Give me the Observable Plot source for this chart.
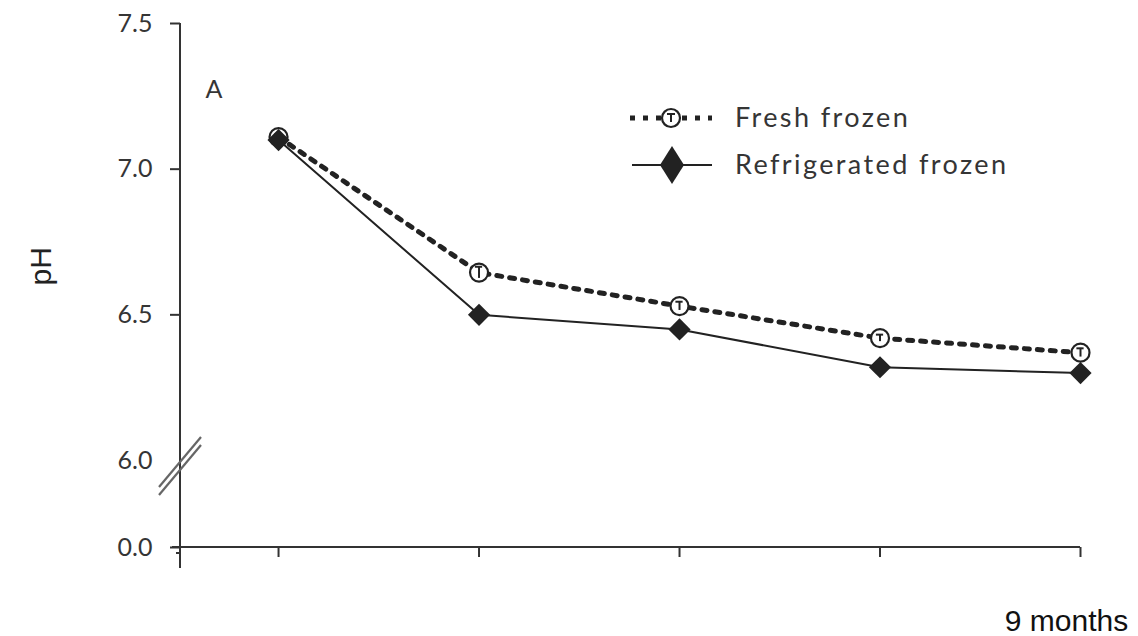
<!DOCTYPE html>
<html>
<head>
<meta charset="utf-8">
<script src="https://cdn.jsdelivr.net/npm/d3@7"></script>
<script src="https://cdn.jsdelivr.net/npm/@observablehq/plot@0.6"></script>
<style>
  html, body { margin: 0; padding: 0; background: #fff; }
  #chart { width: 1138px; height: 636px; }
</style>
</head>
<body>
<div id="chart"></div>
<script>
// ---- data ----
const months = [0, 1, 2, 3, 4];
const xLabels = ["", "", "", "", "9 months"];
const fresh = [7.11, 6.645, 6.53, 6.42, 6.37];
const freshErr = [0.01, 0.02, 0.015, 0.012, 0.015];
const refrig = [7.10, 6.50, 6.45, 6.32, 6.30];
const yTicks = [0.0, 6.5, 7.0, 7.5];
const yBreakTick = [6.0];
const seriesNames = ["Fresh frozen", "Refrigerated frozen"];
const panelLabel = "A";
const yLabel = "pH";

const freshData = months.map((m, i) => ({ x: m, y: fresh[i], e: freshErr[i] }));
const refrigData = months.map((m, i) => ({ x: m, y: refrig[i] }));
const labelData = months.map((m, i) => ({ x: m, text: xLabels[i] })).filter(d => d.text);

const INK = "#222";
const TXT = "#353535";

function decorations(index, scales, values, dims) {
  const g = d3.create("svg:g");
  const x0 = dims.marginLeft;
  const x1 = dims.width - dims.marginRight;
  const y0 = scales.y(0);
  const yTop = scales.y(7.5);
  // y axis line (extends a bit below x axis)
  g.append("path").attr("d", `M${x0},${yTop}V${y0 + 21}M${x0},${y0 + 6}h-4`)
    .attr("stroke", "#333").attr("stroke-width", 2).attr("fill", "none");
  // x axis line
  g.append("line").attr("x1", x0 - 8).attr("x2", x1).attr("y1", y0).attr("y2", y0)
    .attr("stroke", "#333").attr("stroke-width", 2);
  // axis break marks
  [2, 10].forEach(off => {
    const c = scales.y(6.0) + off;
    g.append("line").attr("x1", x0 - 21).attr("y1", c + 25).attr("x2", x0 + 21).attr("y2", c - 25)
      .attr("stroke", "#666").attr("stroke-width", 2.2);
  });
  // legend
  const lg = g.append("g");
  const ly1 = 118, ly2 = 165;
  lg.append("line").attr("x1", 630).attr("x2", 712).attr("y1", ly1).attr("y2", ly1)
    .attr("stroke", INK).attr("stroke-width", 5).attr("stroke-dasharray", "5,8");
  lg.append("circle").attr("cx", 671).attr("cy", ly1).attr("r", 9)
    .attr("fill", "#fff").attr("stroke", INK).attr("stroke-width", 2.2);
  lg.append("path").attr("d", `M671,${ly1 - 4}v8M667,${ly1 - 4}h8`).attr("stroke", INK).attr("stroke-width", 2);
  lg.append("line").attr("x1", 632).attr("x2", 712).attr("y1", ly2).attr("y2", ly2)
    .attr("stroke", INK).attr("stroke-width", 2);
  lg.append("path").attr("d", `M672,${ly2 - 19}L684,${ly2}L672,${ly2 + 19}L660,${ly2}Z`).attr("fill", INK);
  [[ly1, seriesNames[0]], [ly2, seriesNames[1]]].forEach(([yy, t]) => {
    lg.append("text").attr("x", 735).attr("y", yy).attr("dy", "0.35em")
      .attr("text-anchor", "start")
      .attr("font-family", "Lato").attr("font-size", 27).attr("letter-spacing", "2.4px")
      .attr("fill", TXT).text(t);
  });
  return g.node();
}

const chart = Plot.plot({
  width: 1138,
  height: 636,
  marginLeft: 180,
  marginRight: 58,
  marginTop: 23,
  marginBottom: 89,
  style: { background: "#fff", color: "#333", fontFamily: "Lato" },
  x: { type: "linear", domain: [-0.489, 4], axis: null },
  y: { type: "linear", domain: [0, 6, 7.5], range: [547, 460, 23], axis: null },
  marks: [
    Plot.axisY(yTicks, { label: null, tickSize: 10, tickPadding: 18, tickFormat: d => d.toFixed(1), fontSize: 25, fill: TXT, strokeWidth: 2 }),
    Plot.axisY(yBreakTick, { label: null, tickSize: 0, tickPadding: 28, tickFormat: d => d.toFixed(1), fontSize: 25, fill: TXT }),
    Plot.axisX(months, { label: null, tickSize: 10, tickFormat: () => "", strokeWidth: 2 }),
    Plot.text(labelData, { x: "x", y: 0, text: "text", dx: -14, dy: 62, lineAnchor: "top", fontSize: 30, fontFamily: "Liberation Sans", fill: "#111" }),
    Plot.text([yLabel], { frameAnchor: "left", dx: -139, rotate: -90, fontSize: 30, fontFamily: "Liberation Sans", fill: "#222" }),
    Plot.text([panelLabel], { frameAnchor: "top-left", dx: 25, dy: 57, fontSize: 25, fill: TXT }),
    decorations,
    Plot.line(freshData, { x: "x", y: "y", stroke: INK, strokeWidth: 5, strokeDasharray: "5,8" }),
    Plot.line(refrigData, { x: "x", y: "y", stroke: INK, strokeWidth: 2 }),
    Plot.dot(freshData, { x: "x", y: "y", r: 9, fill: "#fff", stroke: INK, strokeWidth: 2.2 }),
    Plot.ruleX(freshData, { x: "x", y1: d => d.y - d.e, y2: d => d.y + d.e, stroke: INK, strokeWidth: 2 }),
    Plot.ruleY(freshData, { y: d => d.y + d.e, x1: d => d.x - 0.018, x2: d => d.x + 0.018, stroke: INK, strokeWidth: 2 }),
    Plot.dot(refrigData, { x: "x", y: "y", symbol: "diamond2", r: 10, fill: INK })
  ]
});
document.getElementById("chart").appendChild(chart);
</script>
</body>
</html>
